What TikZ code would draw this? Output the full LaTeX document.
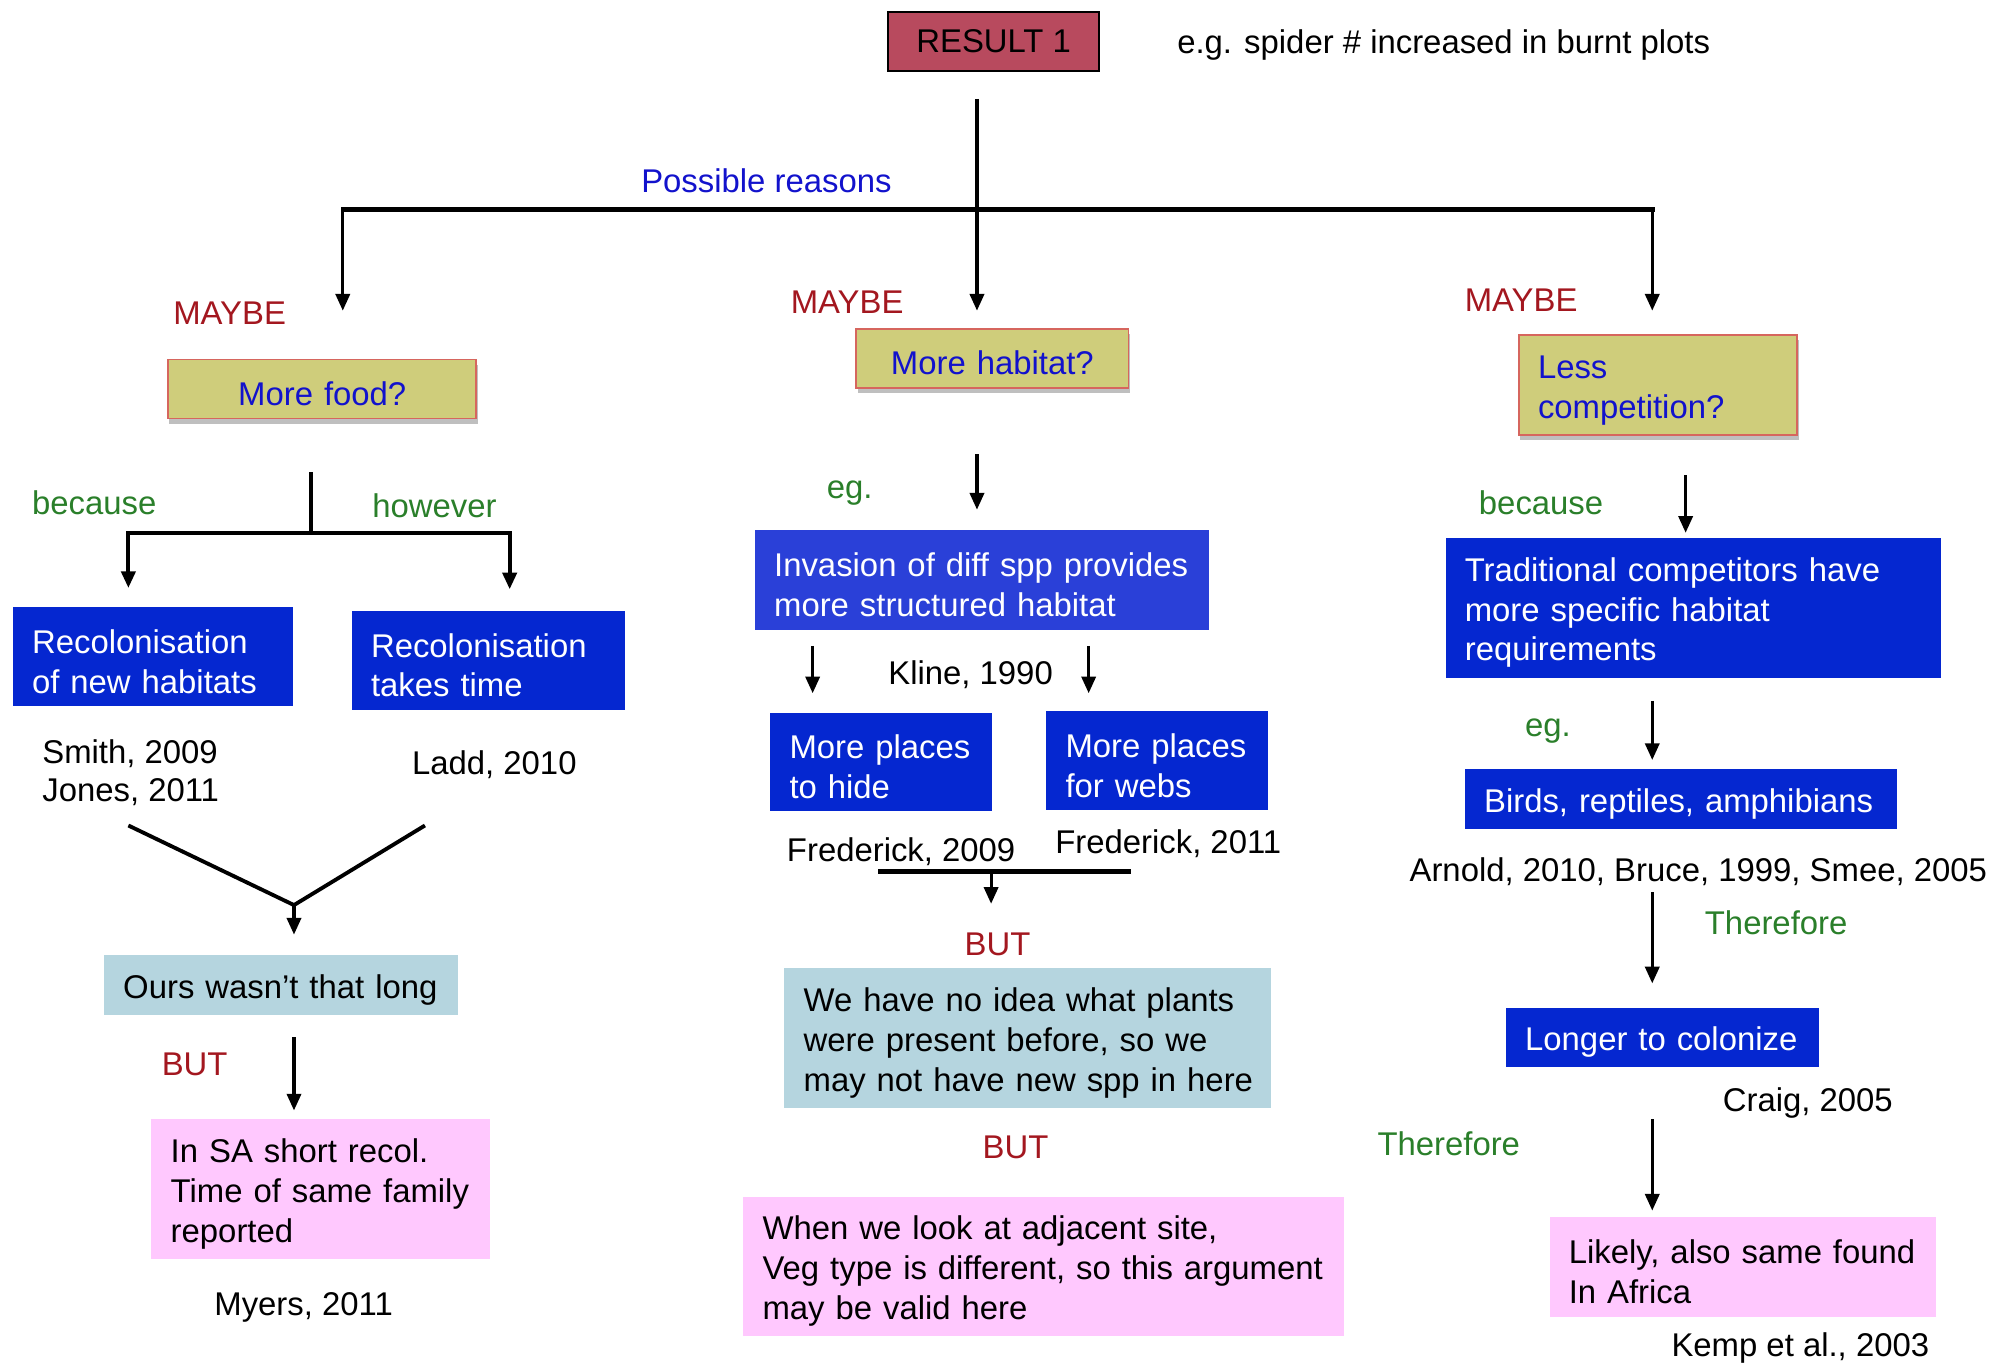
\documentclass[tikz,border=0pt]{standalone}
\usepackage{fontspec}
\setmainfont{Liberation Sans}
\usetikzlibrary{arrows.meta,shadows}
\definecolor{resred}{HTML}{B84A5E}
\definecolor{olive}{HTML}{CFCD7B}
\definecolor{oliveedge}{HTML}{D6665E}
\definecolor{boxblue}{HTML}{0527D0}
\definecolor{invblue}{HTML}{2A40D8}
\definecolor{lightbl}{HTML}{B5D5DF}
\definecolor{pinkbg}{HTML}{FFC8FE}
\definecolor{bluetxt}{HTML}{1212CC}
\definecolor{redtxt}{HTML}{A3171F}
\definecolor{greentxt}{HTML}{2A7F2A}
\begin{document}
\begin{tikzpicture}[x=1pt,y=-1pt,
 txt/.style={font={\fontsize{25.6}{31}\selectfont}, inner sep=0pt, outer sep=0pt},
 lab/.style={txt, anchor=base west},
 redlab/.style={lab, text=redtxt},
 greenlab/.style={lab, text=greentxt},
 box/.style={txt, anchor=north west, inner xsep=15pt, inner ysep=0pt, align=left,
   execute at begin node={\rule{0pt}{26pt}}},
 bluebox/.style={box, fill=boxblue, text=white},
 tealbox/.style={box, fill=lightbl, text=black},
 pinkbox/.style={box, fill=pinkbg, text=black},
 olivebox/.style={box, fill=olive, draw=oliveedge, line width=1.5pt, text=bluetxt,
   drop shadow={shadow xshift=1pt, shadow yshift=-4pt, fill=black, opacity=0.25}},
 arr/.style={line width=2.5pt, -{Triangle[width=11pt,length=13pt]}},
 bar/.style={line width=3.5pt, line cap=rect},
]
\useasboundingbox (0,0) rectangle (1568,1062);

% ---------- top ----------
\node[txt, anchor=north west, fill=resred, draw=black, line width=1.5pt,
      minimum width=164pt, minimum height=46pt] (res) at (692,9) {RESULT 1};
\node[lab] (egtop) at (917,42) {e.g. spider \# increased in burnt plots};
\node[lab, text=bluetxt, anchor=base] (poss) at (597,150) {Possible reasons};
\node[redlab] (may1) at (135,253) {MAYBE};
\node[redlab] (may2) at (616,244) {MAYBE};
\node[redlab] (may3) at (1141,243) {MAYBE};

\node[olivebox, align=center, inner xsep=0pt, text width=240pt, minimum height=46pt] (food) at (131,280) {More food?};
\node[olivebox, align=center, inner xsep=0pt, text width=212pt, minimum height=46pt] (habitat) at (667,256) {More habitat?};
\node[olivebox, text width=187pt, minimum height=78pt] (comp) at (1183,261) {Less\\competition?};

% ---------- left ----------
\node[greenlab] (bec1) at (25,401) {because};
\node[greenlab] (how) at (290,403) {however};
\node[bluebox, text width=188pt, minimum height=77pt] (recA) at (10,473) {Recolonisation\\of new habitats};
\node[bluebox, text width=183pt, minimum height=77pt] (recB) at (274,476) {Recolonisation\\takes time};
\node[txt, anchor=north west, align=left, font={\fontsize{25.6}{29.5}\selectfont}] (smith) at (33,576) {Smith, 2009\\Jones, 2011};
\node[lab] (ladd) at (321,603) {Ladd, 2010};
\node[tealbox, text width=246pt, minimum height=47pt] (ours) at (81,744) {Ours wasn’t that long};
\node[redlab] (but1) at (126,838) {BUT};
\node[pinkbox, text width=234pt, minimum height=109pt] (insa) at (118,872) {\mbox{In SA short recol.}\\\mbox{Time of same family}\\reported};
\node[lab] (myers) at (167,1025) {Myers, 2011};

% ---------- middle ----------
\node[greenlab] (eg2) at (644,388) {eg.};
\node[bluebox, fill=invblue, text width=324pt, minimum height=78pt] (inv) at (588,413) {\mbox{Invasion of diff spp provides}\\\mbox{more structured habitat}};
\node[lab] (kline) at (692,533) {Kline, 1990};
\node[bluebox, text width=143pt, minimum height=77pt] (hide) at (600,555) {More places\\to hide};
\node[bluebox, text width=143pt, minimum height=77pt] (webs) at (815,554) {More places\\for webs};
\node[lab] (fr1) at (613,671) {Frederick, 2009};
\node[lab] (fr2) at (822,665) {Frederick, 2011};
\node[redlab, anchor=base] (but2) at (777,744) {BUT};
\node[tealbox, text width=349pt, minimum height=109pt] (noidea) at (611,754) {\mbox{We have no idea what plants}\\\mbox{were present before, so we}\\\mbox{may not have new spp in here}};
\node[redlab, anchor=base] (but3) at (791,902) {BUT};
\node[pinkbox, text width=438pt, minimum height=109pt] (adj) at (579,932) {\mbox{When we look at adjacent site,}\\\mbox{Veg type is different, so this argument}\\\mbox{may be valid here}};

% ---------- right ----------
\node[greenlab] (bec2) at (1152,401) {because};
\node[bluebox, text width=356pt, minimum height=109pt] (trad) at (1126,419) {\mbox{Traditional competitors have}\\\mbox{more specific habitat}\\requirements};
\node[greenlab] (eg3) at (1188,574) {eg.};
\node[bluebox, text width=307pt, minimum height=47pt] (birds) at (1141,599) {\mbox{Birds, reptiles, amphibians}};
\node[lab] (arnold) at (1098,687) {Arnold, 2010, Bruce, 1999, Smee, 2005};
\node[greenlab] (ther1) at (1328,728) {Therefore};
\node[bluebox, text width=214pt, minimum height=46pt] (longer) at (1173,785) {\mbox{Longer to colonize}};
\node[lab] (craig) at (1342,866) {Craig, 2005};
\node[greenlab] (ther2) at (1073,900) {Therefore};
\node[pinkbox, text width=271pt, minimum height=78pt] (likely) at (1207,948) {\mbox{Likely, also same found}\\In Africa};
\node[lab] (kemp) at (1302,1057) {Kemp et al., 2003};

% ---------- junction coordinates ----------
\coordinate (t0) at (761,77);
\coordinate (tA) at (761,242);
\coordinate (hl) at (267,163);
\coordinate (hr) at (1287,163);
\coordinate (lA) at (267,242);
\coordinate (rA) at (1287,242);

\coordinate (fv0) at (242,368);
\coordinate (fv1) at (242,415);
\coordinate (fl) at (100,415);
\coordinate (fr) at (397,415);
\coordinate (flA) at (100,458);
\coordinate (frA) at (397,459);
\coordinate (vl) at (100,643);
\coordinate (vr) at (331,643);
\coordinate (vm) at (229,705);
\coordinate (vA) at (229,728);
\coordinate (b0) at (229,808);
\coordinate (bA) at (229,865);

\coordinate (m0) at (761,354);
\coordinate (mA) at (761,397);
\coordinate (ml0) at (633,503);
\coordinate (mlA) at (633,540);
\coordinate (mr0) at (848,503);
\coordinate (mrA) at (848,540);
\coordinate (mbl) at (686,679);
\coordinate (mbr) at (879,679);
\coordinate (mb) at (772,679);
\coordinate (mbA) at (772,704);

\coordinate (r10) at (1313,370);
\coordinate (r1A) at (1313,415);
\coordinate (r20) at (1287,546);
\coordinate (r2A) at (1287,592);
\coordinate (r30) at (1287,695);
\coordinate (r3A) at (1287,766);
\coordinate (r40) at (1287,872);
\coordinate (r4A) at (1287,943);

% ---------- connectors ----------
\draw[bar] (hl) -- (hr);
\draw[arr] (t0) -- (tA);
\draw[arr] (hl) -- (lA);
\draw[arr] (hr) -- (rA);

\draw[line width=3pt] (fv0) -- (fv1);
\draw[bar] (fl) -- (fr);
\draw[arr, line width=3pt] (fl) -- (flA);
\draw[arr, line width=3pt] (fr) -- (frA);
\draw[line width=3pt] (vl) -- (vm) -- (vr);
\draw[arr] (vm) -- (vA);
\draw[arr] (b0) -- (bA);

\draw[arr] (m0) -- (mA);
\draw[arr] (ml0) -- (mlA);
\draw[arr] (mr0) -- (mrA);
\draw[bar] (mbl) -- (mbr);
\draw[arr] (mb) -- (mbA);

\draw[arr] (r10) -- (r1A);
\draw[arr] (r20) -- (r2A);
\draw[arr] (r30) -- (r3A);
\draw[arr] (r40) -- (r4A);
\end{tikzpicture}
\end{document}
